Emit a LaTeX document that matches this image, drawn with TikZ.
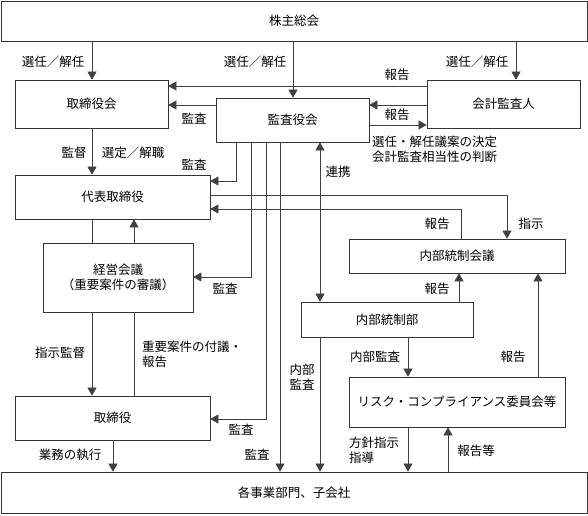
\documentclass[tikz,border=0pt]{standalone}
\usepackage{fontspec}
\setmainfont{Noto Sans CJK JP}
\usetikzlibrary{arrows.meta}
\begin{document}
\begin{tikzpicture}[x=1pt,y=-1pt,
  font=\fontsize{12.5}{15}\selectfont,
  box/.style={draw=black!80, line width=0.7pt, inner sep=0pt, align=center},
  conn/.style={draw=black!75, line width=0.6pt},
  arr/.style={conn, -{Triangle[length=8pt,width=9pt]}},
  arrb/.style={conn, {Triangle[length=8pt,width=9pt]}-{Triangle[length=8pt,width=9pt]}},
  lbl/.style={inner sep=0pt, align=left}]
\useasboundingbox (0,0) rectangle (588,515);
% boxes
\node[box, minimum width=586pt, minimum height=40pt] (sh) at (294,21) {株主総会};
\node[box, minimum width=153pt, minimum height=48pt] (tb) at (91.5,104) {取締役会};
\node[box, minimum width=153pt, minimum height=44pt] (ka) at (292.5,120) {監査役会};
\node[box, minimum width=153pt, minimum height=48pt] (kk) at (503.5,104) {会計監査人};
\node[box, minimum width=195pt, minimum height=44pt] (dh) at (112.5,197) {代表取締役};
\node[box, minimum width=150pt, minimum height=69pt] (kg) at (118,277.5) {経営会議\\（重要案件の審議）};
\node[box, minimum width=216pt, minimum height=34pt] (nk) at (457,256) {内部統制会議};
\node[box, minimum width=172pt, minimum height=35pt] (nb) at (387,319.5) {内部統制部};
\node[box, minimum width=195pt, minimum height=44pt] (tr) at (112.5,418) {取締役};
\node[box, minimum width=216pt, minimum height=50pt] (rc) at (457,402) {リスク・コンプライアンス委員会等};
\node[box, minimum width=586pt, minimum height=41pt] (jg) at (294,492.5) {各事業部門、子会社};
% connectors
\draw[arr] (92,0 |- sh.south) -- (92,0 |- tb.north);
\draw[arr] (293,0 |- sh.south) -- (293,0 |- ka.north);
\draw[arr] (516,0 |- sh.south) -- (516,0 |- kk.north);
\draw[arr] (kk.west |- 0,86) -- (tb.east |- 0,86);
\draw[arr] (kk.west |- 0,105) -- (ka.east |- 0,105);
\draw[arr] (ka.east |- 0,125) -- (kk.west |- 0,125);
\draw[arr] (ka.west |- 0,105) -- (tb.east |- 0,105);
\draw[arr] (92,0 |- tb.south) -- (92,0 |- dh.north);
\draw[arr] (236,0 |- ka.south) |- (dh.east |- 0,181);
\draw[arr] (dh.east |- 0,195) -| (507,0 |- nk.north);
\draw[arr] (461,0 |- nk.north) |- (dh.east |- 0,209);
\draw[conn] (92,0 |- kg.north) -- (92,0 |- dh.south);
\draw[arr] (134,0 |- kg.north) -- (134,0 |- dh.south);
\draw[arr] (251,0 |- ka.south) |- (kg.east |- 0,277);
\draw[arr] (92,0 |- kg.south) -- (92,0 |- tr.north);
\draw[conn] (134,0 |- tr.north) -- (134,0 |- kg.south);
\draw[arr] (266,0 |- ka.south) |- (tr.east |- 0,419);
\draw[arr] (280,0 |- ka.south) -- (280,0 |- jg.north);
\draw[arrb] (320,0 |- ka.south) -- (320,0 |- nb.north);
\draw[arr] (459,0 |- nb.north) -- (459,0 |- nk.south);
\draw[arr] (320,0 |- nb.south) -- (320,0 |- jg.north);
\draw[arr] (408,0 |- nb.south) -- (408,0 |- rc.north);
\draw[arr] (538,0 |- rc.north) -- (538,0 |- nk.south);
\draw[arr] (408,0 |- rc.south) -- (408,0 |- jg.north);
\draw[arr] (448,0 |- jg.north) -- (448,0 |- rc.south);
\draw[arr] (113,0 |- tr.south) -- (113,0 |- jg.north);
% labels
\node[lbl] (l1) at (53,62) {選任／解任};
\node[lbl] (l2) at (255,62) {選任／解任};
\node[lbl] (l3) at (477,62) {選任／解任};
\node[lbl] (l4) at (397,75) {報告};
\node[lbl] (l5) at (397,115) {報告};
\node[lbl, anchor=west] (l6) at (372,149) {選任・解任議案の決定\\会計監査相当性の判断};
\node[lbl] (l7) at (194,119) {監査};
\node[lbl] (l8) at (74,153) {監督};
\node[lbl] (l9) at (133,153) {選定／解職};
\node[lbl] (l10) at (194,165) {監査};
\node[lbl] (l11) at (531,224) {指示};
\node[lbl] (l12) at (437,224) {報告};
\node[lbl] (l13) at (338,172) {連携};
\node[lbl] (l14) at (225,289) {監査};
\node[lbl] (l15) at (437,289) {報告};
\node[lbl] (l16) at (60,353) {指示監督};
\node[lbl, anchor=west] (l17) at (142,354) {重要案件の付議・\\報告};
\node[lbl] (l18) at (375,357) {内部監査};
\node[lbl] (l19) at (513,357) {報告};
\node[lbl, align=center] (l20) at (302,377) {内部\\監査};
\node[lbl] (l21) at (241,430) {監査};
\node[lbl] (l22) at (70,455) {業務の執行};
\node[lbl] (l23) at (257,455) {監査};
\node[lbl, anchor=west] (l24) at (349,450) {方針指示\\指導};
\node[lbl] (l25) at (476,451) {報告等};
\end{tikzpicture}
\end{document}
